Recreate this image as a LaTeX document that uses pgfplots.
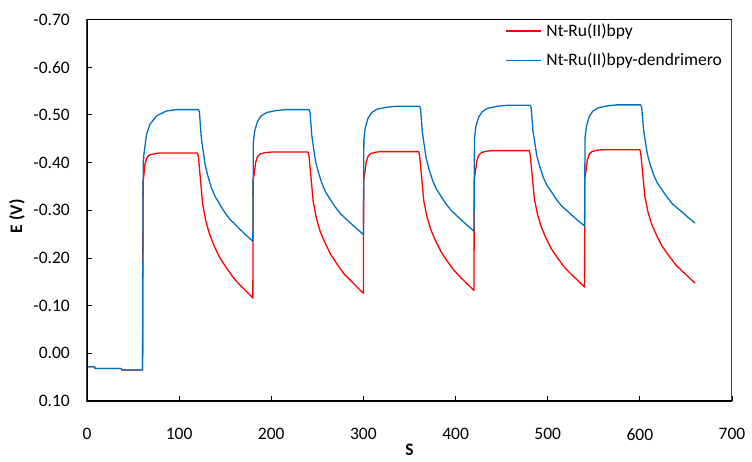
\documentclass[border=0pt]{standalone}
\usepackage{fontspec}
\setmainfont{Carlito}
\usepackage{pgfplots}
\pgfplotsset{compat=1.18}
\definecolor{exred}{RGB}{255,0,0}
\definecolor{exblue}{RGB}{0,112,192}
\newcommand{\chartfont}{\fontsize{17.5}{20}\selectfont}
\begin{document}
\begin{tikzpicture}[x=1pt,y=1pt]
\useasboundingbox (-87,-60) rectangle (665,401);
\begin{axis}[
  at={(0,0)}, anchor=south west,
  scale only axis, width=645pt, height=381.5pt,
  xmin=0, xmax=700, ymin=-0.70, ymax=0.10,
  y dir=reverse,
  xtick={0,100,...,700},
  ytick={-0.7,-0.6,-0.5,-0.4,-0.3,-0.2,-0.1,0,0.1},
  yticklabels={-0.70,-0.60,-0.50,-0.40,-0.30,-0.20,-0.10,0.00,0.10},
  /pgf/number format/assume math mode=true,
  tick align=inside, tick pos=left,
  major tick length=5pt,
  tick style={black, line width=0.8pt},
  axis line style={line width=1pt, black!75},
  ticklabel style={font=\chartfont},
  yticklabel style={anchor=east, inner sep=0pt, xshift=-17pt},
  xticklabel style={anchor=north, inner sep=0pt, yshift=-27pt},
  xlabel={\textbf{S}},
  ylabel={\textbf{E (V)}},
  every axis x label/.style={at={(axis description cs:0.5,0)}, yshift=-49pt, anchor=center, font=\chartfont},
  every axis y label/.style={at={(axis description cs:0,0.5)}, xshift=-70pt, yshift=-6pt, rotate=90, anchor=center, font=\chartfont},
  every axis plot/.append style={line width=1.3pt, line join=round,
    legend image code/.code={\draw[##1] (0pt,0pt) -- (35pt,0pt);}},
  legend style={draw=none, fill=none, at={(axis description cs:0.648,1)}, anchor=north west,
    yshift=-2pt, inner sep=0pt, row sep=11pt, column sep=3pt,
    font=\chartfont, nodes={inner sep=2pt}},
  legend cell align=left,
  clip=true,
]
\addplot[exred] coordinates {
(0,0.028)(8,0.028)(9,0.032)(37,0.032)(38,0.035)(60.3,0.035)
(60.8,-0.360)(61.8,-0.375)(63,-0.398)(65,-0.410)(68,-0.416)(74,-0.419)(80,-0.420)(120,-0.420)
(121,-0.411)(123,-0.367)(125.5,-0.313)(129,-0.277)(133,-0.250)(138,-0.225)(144,-0.201)(151,-0.180)(158.7,-0.159)(166,-0.143)(173,-0.130)(180,-0.116)
(180.3,-0.362)(181.5,-0.377)(183,-0.400)(185,-0.412)(188,-0.418)(194,-0.421)(200,-0.422)(240,-0.422)
(241,-0.413)(243,-0.371)(245.5,-0.318)(249,-0.283)(253,-0.256)(258,-0.233)(264,-0.209)(271,-0.188)(278.7,-0.167)(286,-0.153)(293,-0.139)(300,-0.126)
(300.3,-0.363)(301.5,-0.378)(303,-0.401)(305,-0.413)(308,-0.419)(314,-0.422)(320,-0.423)(360,-0.423)
(361,-0.414)(363,-0.373)(365.5,-0.320)(369,-0.286)(373,-0.260)(378,-0.237)(384,-0.214)(391,-0.193)(398.7,-0.173)(406,-0.158)(413,-0.145)(420,-0.132)
(420.3,-0.365)(421.5,-0.380)(423,-0.403)(425,-0.415)(428,-0.421)(434,-0.424)(440,-0.425)(480,-0.425)
(481,-0.416)(483,-0.376)(485.5,-0.324)(489,-0.291)(493,-0.265)(498,-0.242)(504,-0.219)(511,-0.199)(518.7,-0.179)(526,-0.165)(533,-0.152)(540,-0.139)
(540.3,-0.367)(541.5,-0.382)(543,-0.405)(545,-0.417)(548,-0.423)(554,-0.426)(560,-0.427)(600,-0.427)
(601,-0.419)(603,-0.379)(605.5,-0.328)(609,-0.295)(613,-0.270)(618,-0.248)(624,-0.225)(631,-0.206)(638.7,-0.186)(646,-0.172)(653,-0.160)(660,-0.147)
};
\addlegendentry{Nt-Ru(II)bpy}
\addplot[exblue] coordinates {
(0,0.028)(8,0.028)(9,0.032)(37,0.032)(38,0.035)(60.3,0.035)
(61,-0.400)(61.8,-0.418)(64.7,-0.460)(68.3,-0.480)(75.5,-0.498)(86,-0.508)(97,-0.511)(121,-0.511)
(122,-0.506)(124,-0.453)(128,-0.398)(131,-0.373)(135,-0.347)(139,-0.329)(144,-0.313)(149,-0.297)(155,-0.281)(161,-0.270)(166,-0.260)(173,-0.247)(180,-0.235)
(180.5,-0.441)(182,-0.466)(185,-0.486)(189,-0.498)(195,-0.505)(205,-0.509)(215,-0.511)(241,-0.511)
(242,-0.506)(244,-0.456)(248,-0.403)(251,-0.380)(255,-0.356)(259,-0.338)(264,-0.323)(269,-0.308)(275,-0.293)(281,-0.282)(286,-0.273)(293,-0.261)(300,-0.249)
(300.5,-0.448)(302,-0.473)(305,-0.493)(309,-0.505)(315,-0.512)(325,-0.516)(335,-0.518)(361,-0.518)
(362,-0.513)(364,-0.463)(368,-0.410)(371,-0.387)(375,-0.363)(379,-0.345)(384,-0.330)(389,-0.315)(395,-0.300)(401,-0.289)(406,-0.280)(413,-0.268)(420,-0.256)
(420.5,-0.450)(422,-0.475)(425,-0.495)(429,-0.507)(435,-0.514)(445,-0.518)(455,-0.520)(481,-0.520)
(482,-0.515)(484,-0.467)(488,-0.416)(491,-0.394)(495,-0.370)(499,-0.353)(504,-0.339)(509,-0.324)(515,-0.309)(521,-0.299)(526,-0.290)(533,-0.278)(540,-0.267)
(540.5,-0.451)(542,-0.476)(545,-0.496)(549,-0.508)(555,-0.515)(565,-0.519)(575,-0.521)(601,-0.521)
(602,-0.516)(604,-0.469)(608,-0.419)(611,-0.397)(615,-0.374)(619,-0.357)(624,-0.343)(629,-0.329)(635,-0.314)(641,-0.304)(646,-0.296)(653,-0.284)(660,-0.273)
};
\addlegendentry{Nt-Ru(II)bpy-dendrimero}
\draw[black, line width=2pt] (rel axis cs:0,1) -- (rel axis cs:0,0) -- (rel axis cs:1,0);
\draw[black, line width=1.5pt] (rel axis cs:0,1) -- (rel axis cs:1,1);
\end{axis}
\end{tikzpicture}
\end{document}
